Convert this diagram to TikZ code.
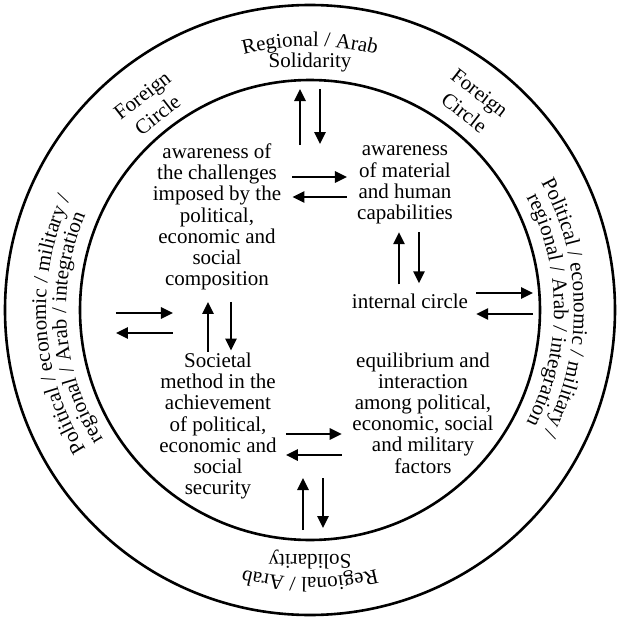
\documentclass[tikz,border=0pt]{standalone}
\usepackage{fontspec}
\setmainfont{Liberation Serif}
\usetikzlibrary{arrows.meta,decorations.text}

\begin{document}
\begin{tikzpicture}[
      x=1pt, y=1pt,
      ring/.style={line width=2.6pt},
      textblock/.style={inner sep=0pt, align=center, font=\fontsize{21}{21.2}\selectfont},
      flow/.style={line width=2.6pt, -{Triangle[length=12pt,width=11pt]}},
      arctext/.style={decorate, decoration={text along path, text align=center,
          text={|\fontsize{21}{21}\selectfont|#1}}}
    ]

    \useasboundingbox (-310,-309) rectangle (309,310);

    % ---- radii ----
    \def\rout{305}
    \def\rin{230}
    \def\rone{264}
    \def\rtwo{244}

    % ================= the two circles =================
    \coordinate (O) at (0,0);
    \draw[ring] (O) circle[radius=\rout];
    \draw[ring] (O) circle[radius=\rin];

    \coordinate (ringN) at (90:\rin);
    \coordinate (ringS) at (270:\rin);
    \coordinate (ringE) at (0:\rin);
    \coordinate (ringW) at (180:\rin);

    % ================= outer ring texts =================
    \path[arctext={Regional / Arab}] (130:\rone) arc[start angle=130, end angle=50, radius=\rone];
    \node[textblock, anchor=base] (solN) at (0,242) {Solidarity};

    \path[arctext={Regional / Arab}] (310:268) arc[start angle=310, end angle=230, radius=268];
    \node[textblock, anchor=base, rotate=180] (solS) at (0,-244) {Solidarity};

    \path[arctext={Political / economic / military /}] (223.5:\rone) arc[start angle=223.5, end angle=143.5, radius=\rone];
    \path[arctext={regional / Arab / integration}] (224.5:\rtwo) arc[start angle=224.5, end angle=144.5, radius=\rtwo];

    \path[arctext={Political / economic / military /}] (40.5:\rone) arc[start angle=40.5, end angle=-39.5, radius=\rone];
    \path[arctext={regional / Arab / integration}] (40:\rtwo) arc[start angle=40, end angle=-40, radius=\rtwo];

    \node[textblock, rotate=38, font=\fontsize{21}{25}\selectfont] (forL) at (128:260) {Foreign\\Circle};
    \node[textblock, rotate=-38, font=\fontsize{21}{25}\selectfont] (forR) at (52:263) {Foreign\\Circle};

    % ================= inner texts =================
    \node[textblock] (chal) at (-93,93) {awareness of\\the challenges\\imposed by the\\political,\\economic and\\social\\composition};
    \node[textblock] (capab) at (95,125) {awareness\\of material\\and human\\capabilities};
    \node[textblock] (inner) at (100,9) {internal circle};
    \node[textblock] (method) at (-92,-116) {Societal\\method in the\\achievement\\of political,\\economic and\\social\\security};
    \node[textblock] (balance) at (113,-103) {equilibrium and\\interaction\\among political,\\economic, social\\and military\\factors};

    % ================= arrow pairs =================
    % top
    \draw[flow] ([shift={(-10,-65)}]ringN) -- ([shift={(-10,-9)}]ringN);
    \draw[flow] ([shift={(10,-9)}]ringN) -- ([shift={(10,-64)}]ringN);

    % challenges <-> capabilities
    \draw[flow] ([shift={(11,40)}]chal.east) -- ([shift={(-10,8)}]capab.west);
    \draw[flow] ([shift={(-10,-12)}]capab.west) -- ([shift={(11,20)}]chal.east);

    % capabilities <-> internal circle
    \draw[flow] ([shift={(-11,9)}]inner.north) -- ([shift={(-6,-8)}]capab.south);
    \draw[flow] ([shift={(14,-8)}]capab.south) -- ([shift={(9,10)}]inner.north);

    % internal circle <-> right ring
    \draw[flow] ([shift={(8,8)}]inner.east) -- ([shift={(-7,17)}]ringE);
    \draw[flow] ([shift={(-7,-4)}]ringE) -- ([shift={(8,-13)}]inner.east);

    % left ring <-> inside
    \draw[flow] ([shift={(36,-3)}]ringW) -- ([shift={(-44,-96)}]chal.center);
    \draw[flow] ([shift={(-44,-116)}]chal.center) -- ([shift={(36,-23)}]ringW);

    % challenges <-> method
    \draw[flow] ([shift={(-10,1)}]method.north) -- ([shift={(-9,-11.4)}]chal.south);
    \draw[flow] ([shift={(14,-11.4)}]chal.south) -- ([shift={(13,2)}]method.north);

    % method <-> equilibrium
    \draw[flow] ([shift={(9,-8)}]method.east) -- ([shift={(-10.5,-21)}]balance.west);
    \draw[flow] ([shift={(-10.5,-42)}]balance.west) -- ([shift={(9,-29)}]method.east);

    % bottom
    \draw[flow] ([shift={(-7,10)}]ringS) -- ([shift={(-7,62)}]ringS);
    \draw[flow] ([shift={(13,62)}]ringS) -- ([shift={(13,12)}]ringS);

\end{tikzpicture}
\end{document}
